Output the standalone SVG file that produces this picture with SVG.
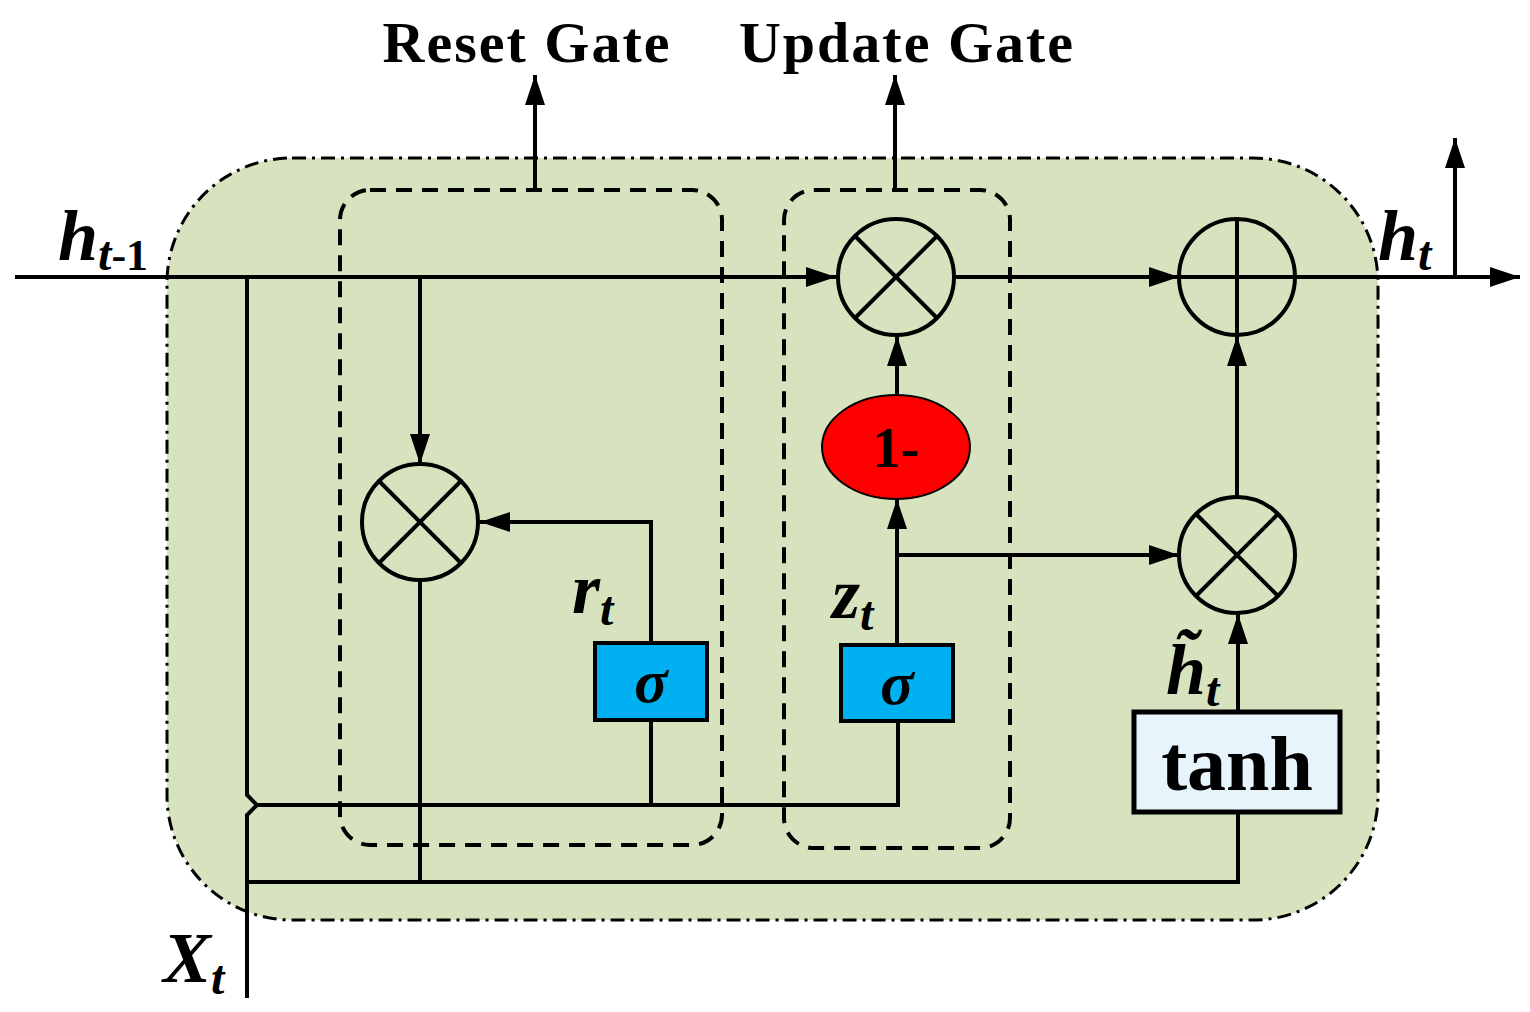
<svg xmlns="http://www.w3.org/2000/svg" width="1530" height="1012" viewBox="0 0 1530 1012">
<defs>
<marker id="a" viewBox="0 0 30 20" refX="30" refY="10" markerWidth="30" markerHeight="20" markerUnits="userSpaceOnUse" orient="auto"><path d="M0,0 L30,10 L0,20 Z" fill="#000"/></marker>
<style>
.l{stroke:#000;stroke-width:4;fill:none}
.c{stroke:#000;stroke-width:4;fill:none}
.d{stroke:#000;stroke-width:4;fill:none;stroke-dasharray:16 10}
.t{font-family:"Liberation Serif",serif;font-weight:bold;fill:#000}
.i{font-style:italic}
</style>
</defs>
<rect x="167" y="158" width="1211" height="762" rx="125" fill="#d7e3bf" stroke="#000" stroke-width="3" stroke-dasharray="14 6 3 6"/>
<g id="dash-reset"><rect class="d" x="340" y="190" width="382" height="655" rx="30"/></g>
<g id="dash-update"><rect class="d" x="784" y="190" width="226" height="658" rx="30"/></g>
<g id="connectors">
<path class="l" d="M15,277 H836" marker-end="url(#a)"/>
<path class="l" d="M955,277 H1179" marker-end="url(#a)"/>
<path class="l" d="M1296,277 H1520" marker-end="url(#a)"/>
<path class="l" d="M1455,277 V138" marker-end="url(#a)"/>
<path class="l" d="M247,277 V795 L257,805 L247,815 V998"/>
<path class="l" d="M257,805 H898 V721"/>
<path class="l" d="M247,882 H1238 V812"/>
<path class="l" d="M420,277 V464" marker-end="url(#a)"/>
<path class="l" d="M420,580 V882"/>
<path class="l" d="M651,805 V720"/>
<path class="l" d="M651,643 V522 H480" marker-end="url(#a)"/>
<path class="l" d="M897,645 V499" marker-end="url(#a)"/>
<path class="l" d="M897,395 V336" marker-end="url(#a)"/>
<path class="l" d="M897,555 H1179" marker-end="url(#a)"/>
<path class="l" d="M1238,712 V614" marker-end="url(#a)"/>
<path class="l" d="M1237,497 V336" marker-end="url(#a)"/>
<path class="l" d="M535,190 V75" marker-end="url(#a)"/>
<path class="l" d="M895,190 V75" marker-end="url(#a)"/>
</g>
<g id="mul-reset"><circle class="c" cx="420" cy="522" r="58"/><path class="l" d="M379,481 L461,563 M461,481 L379,563"/></g>
<g id="mul-update"><circle class="c" cx="896" cy="277" r="58"/><path class="l" d="M855,236 L937,318 M937,236 L855,318"/></g>
<g id="mul-cand"><circle class="c" cx="1237" cy="555" r="58"/><path class="l" d="M1196,514 L1278,596 M1278,514 L1196,596"/></g>
<g id="add"><circle class="c" cx="1237" cy="277" r="58"/><path class="l" d="M1237,219 V335 M1179,277 H1295"/></g>
<g id="one-minus"><ellipse cx="896" cy="447" rx="74" ry="52" fill="#ff0000" stroke="#000" stroke-width="2"/><text class="t" x="896" y="467" font-size="56" text-anchor="middle">1-</text></g>
<g id="sigma-r"><rect x="595" y="643" width="112" height="77" fill="#00b0f0" stroke="#000" stroke-width="4"/><text class="t i" x="651" y="702" font-size="62" text-anchor="middle">σ</text></g>
<g id="sigma-z"><rect x="841" y="645" width="112" height="76" fill="#00b0f0" stroke="#000" stroke-width="4"/><text class="t i" x="897" y="704" font-size="62" text-anchor="middle">σ</text></g>
<g id="tanh"><rect x="1134" y="712" width="206" height="100" fill="#e8f4fb" stroke="#000" stroke-width="5"/><text class="t" x="1237" y="790" font-size="78" text-anchor="middle">tanh</text></g>
<g id="labels">
<text class="t" x="527" y="62" font-size="58" text-anchor="middle" letter-spacing="2">Reset Gate</text>
<text class="t" x="907" y="62" font-size="58" text-anchor="middle" letter-spacing="2">Update Gate</text>
<text class="t i" x="58" y="260" font-size="72">h<tspan font-size="48" dy="10">t</tspan><tspan font-size="44" font-style="normal">-1</tspan></text>
<text class="t i" x="1378" y="260" font-size="72">h<tspan font-size="48" dy="10">t</tspan></text>
<text class="t i" x="163" y="982" font-size="72">X<tspan font-size="48" dy="12">t</tspan></text>
<text class="t i" x="572" y="613" font-size="72">r<tspan font-size="48" dy="12">t</tspan></text>
<text class="t i" x="832" y="618" font-size="72">z<tspan font-size="48" dy="12">t</tspan></text>
<text class="t i" x="1166" y="694" font-size="72">h̃<tspan font-size="48" dy="12">t</tspan></text>
</g>
</svg>
